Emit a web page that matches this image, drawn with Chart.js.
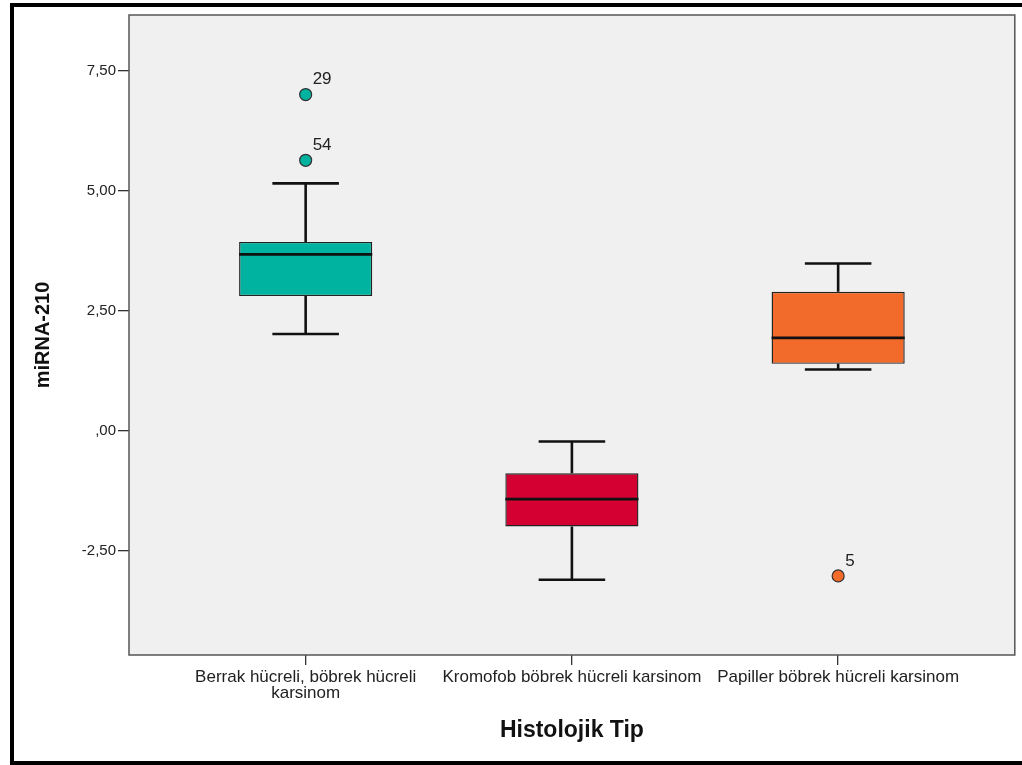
<!DOCTYPE html>
<html>
<head>
<meta charset="utf-8">
<script src="https://cdn.jsdelivr.net/npm/chart.js@4/dist/chart.umd.min.js"></script>
<style>
  body { margin: 0; background: #fff; }
  #c { display: block; }
</style>
</head>
<body>
<canvas id="c" width="1022" height="765"></canvas>
<script>
// Boxplot data (miRNA-210 by histological type)
const categories = [
  ["Berrak hücreli, böbrek hücreli", "karsinom"],
  "Kromofob böbrek hücreli karsinom",
  "Papiller böbrek hücreli karsinom"
];
const whiskerLow = [2.02, -3.10, 1.28];
const q1 = [2.81, -1.99, 1.40];
const medians = [3.68, -1.42, 1.94];
const q3 = [3.94, -0.88, 2.90];
const whiskerHigh = [5.16, -0.22, 3.49];
const outlierGroup = [1, 1, 3];
const outlierValues = [7.01, 5.64, -3.02];
const outlierIds = ["29", "54", "5"];
const yTicks = [-2.5, 0, 2.5, 5, 7.5];
const boxColors = ["#00B2A0", "#D50032", "#F26B2B"];

// boxes as floating bars at x = 1, 2, 3
const boxData = categories.map((c, i) => ({ x: i + 1, y: [q1[i], q3[i]] }));

// whiskers, caps and medians as one line dataset with gaps
const segs = [];
categories.forEach((c, i) => {
  const x = i + 1;
  segs.push({ x: x, y: q3[i] }, { x: x, y: whiskerHigh[i] }, { x: x, y: null });
  segs.push({ x: x, y: q1[i] }, { x: x, y: whiskerLow[i] }, { x: x, y: null });
  segs.push({ x: x - 0.125, y: whiskerHigh[i] }, { x: x + 0.125, y: whiskerHigh[i] }, { x: x, y: null });
  segs.push({ x: x - 0.125, y: whiskerLow[i] }, { x: x + 0.125, y: whiskerLow[i] }, { x: x, y: null });
  segs.push({ x: x - 0.25, y: medians[i] }, { x: x + 0.25, y: medians[i] }, { x: x, y: null });
});

const outlierData = outlierValues.map((v, i) => ({ x: outlierGroup[i], y: v }));
const outlierColors = outlierGroup.map(g => boxColors[g - 1]);

const fmt = v => (v === 0 ? ",00" : v.toFixed(2).replace(".", ","));

const framePlugin = {
  id: "frame",
  beforeDraw(chart) {
    const { ctx, chartArea: a } = chart;
    ctx.save();
    ctx.fillStyle = "#fff";
    ctx.fillRect(0, 0, chart.width, chart.height);
    ctx.fillStyle = "#F0F0F0";
    ctx.fillRect(a.left, a.top, a.right - a.left, a.bottom - a.top);
    ctx.restore();
  },
  afterDatasetsDraw(chart) {
    const { ctx, chartArea: a } = chart;
    ctx.save();
    ctx.strokeStyle = "#555";
    ctx.lineWidth = 1.5;
    ctx.strokeRect(a.left, a.top, a.right - a.left, a.bottom - a.top);
    // outlier case numbers
    const meta = chart.getDatasetMeta(2);
    ctx.fillStyle = "#222";
    ctx.font = "17px 'Liberation Sans', Arial, sans-serif";
    ctx.textAlign = "left";
    ctx.textBaseline = "middle";
    meta.data.forEach((pt, i) => {
      ctx.fillText(outlierIds[i], pt.x + 7, pt.y - 15);
    });
    ctx.restore();
  },
  afterDraw(chart) {
    const { ctx } = chart;
    ctx.save();
    ctx.fillStyle = "#000";
    ctx.fillRect(10, 3, 1012, 4);
    ctx.fillRect(10, 3, 4, 762);
    ctx.fillRect(10, 761, 1012, 4);
    ctx.restore();
  }
};

new Chart(document.getElementById("c").getContext("2d"), {
  type: "bar",
  data: {
    datasets: [
      {
        type: "scatter",
        label: "lines",
        data: segs,
        showLine: true,
        spanGaps: false,
        borderColor: "#111",
        borderWidth: 2.6,
        pointRadius: 0,
        order: 1
      },
      {
        label: "box",
        data: boxData,
        backgroundColor: boxColors,
        borderColor: "#222",
        borderWidth: 1.4,
        borderSkipped: false,
        categoryPercentage: 1,
        barPercentage: 0.5,
        order: 3
      },
      {
        type: "scatter",
        label: "outliers",
        data: outlierData,
        pointRadius: 6,
        pointBackgroundColor: outlierColors,
        pointBorderColor: "#333",
        pointBorderWidth: 1.2,
        order: 0
      }
    ]
  },
  options: {
    responsive: false,
    animation: false,
    layout: { padding: { top: 15, right: 7, bottom: 0, left: 0 } },
    plugins: { legend: { display: false }, tooltip: { enabled: false } },
    scales: {
      x: {
        type: "linear",
        min: 0.3365,
        max: 3.6635,
        offset: false,
        afterFit(s) { s.height = 110; },
        afterBuildTicks(s) { s.ticks = categories.map((c, i) => ({ value: i + 1 })); },
        grid: { offset: false, drawOnChartArea: false, drawTicks: true, tickLength: 10, color: "#333", lineWidth: 1.3 },
        border: { display: false },
        ticks: {
          autoSkip: false,
          maxRotation: 0,
          padding: 5,
          color: "#222",
          font: { family: "'Liberation Sans', Arial, sans-serif", size: 17, lineHeight: 0.9 },
          callback: (v) => categories[Math.round(v) - 1]
        },
        title: {
          display: true,
          text: "Histolojik Tip",
          color: "#111",
          padding: { top: 0, bottom: 21 },
          font: { family: "'Liberation Sans', Arial, sans-serif", size: 23, weight: "bold" }
        }
      },
      y: {
        min: -4.667,
        max: 8.667,
        afterFit(s) { s.width = 129; },
        afterBuildTicks(s) { s.ticks = yTicks.map(v => ({ value: v })); },
        grid: { drawOnChartArea: false, drawTicks: true, tickLength: 11, color: "#333", lineWidth: 1.3 },
        border: { display: false },
        ticks: {
          padding: 2,
          color: "#222",
          font: { family: "'Liberation Sans', Arial, sans-serif", size: 15 },
          callback: (v) => fmt(v)
        },
        title: {
          display: true,
          text: "miRNA-210",
          color: "#111",
          padding: { top: 31, bottom: 0 },
          font: { family: "'Liberation Sans', Arial, sans-serif", size: 20, weight: "bold" }
        }
      }
    }
  },
  plugins: [framePlugin]
});
</script>
</body>
</html>
